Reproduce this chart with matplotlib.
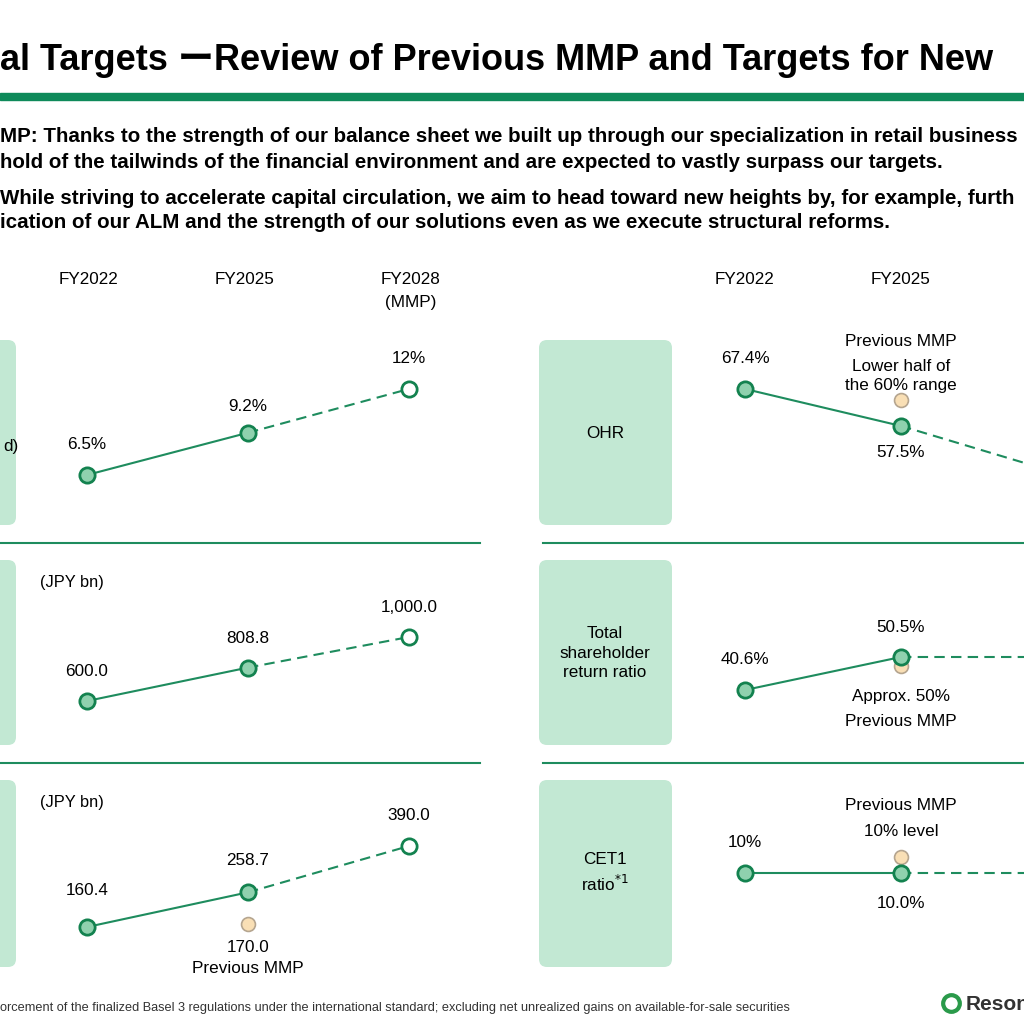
import matplotlib
matplotlib.use("Agg")
import matplotlib.pyplot as plt
from matplotlib.patches import FancyBboxPatch, Rectangle

plt.rcParams['font.family'] = ['Liberation Sans', 'Noto Sans CJK JP', 'DejaVu Sans']

years = ["FY2022", "FY2025", "FY2028\n(MMP)"]
roe = [6.5, 9.2, 12]
roe_lbl = ["6.5%", "9.2%", "12%"]
np_vals = [600.0, 808.8, 1000.0]
np_lbl = ["600.0", "808.8", "1,000.0"]
oth_vals = [160.4, 258.7, 390.0]
oth_lbl = ["160.4", "258.7", "390.0"]
oth_prev = 170.0
ohr = [67.4, 57.5, 45.0]
ohr_prev = 64.5
tsr = [40.6, 50.5, 50.5]
tsr_prev = 47.8
cet1 = [10, 10.0, 10.0]
cet1_prev = 11.0

W = H = 1024
fig = plt.figure(figsize=(10.24, 10.24), dpi=100)
bg = fig.add_axes([0, 0, 1, 1])
bg.set_xlim(0, W); bg.set_ylim(H, 0); bg.axis('off')

GREEN = '#0e8a5a'
LINE = '#1e8c5e'
BOX = '#c2e8d3'
MFC = '#8fd1ae'
BFC = '#f9dfb5'
BEC = '#b5a58f'
FS = 12.3

bg.text(0, 61, "al Targets ーReview of Previous MMP and Targets for New", fontsize=26, fontweight='bold', va='center', ha='left')
bg.add_patch(Rectangle((0, 93), W, 7, color=GREEN))
for y, s in [(137, "MP: Thanks to the strength of our balance sheet we built up through our specialization in retail business"),
             (162, "hold of the tailwinds of the financial environment and are expected to vastly surpass our targets."),
             (198, "While striving to accelerate capital circulation, we aim to head toward new heights by, for example, furth"),
             (223, "ication of our ALM and the strength of our solutions even as we execute structural reforms.")]:
    bg.text(0, y, s, fontsize=14.8, fontweight='bold', va='center', ha='left')

for x, s in [(89, years[0]), (245, years[1]), (411, years[2]), (745, years[0]), (901, years[1])]:
    bg.text(x, 280, s.split("\n")[0], fontsize=FS, ha='center', va='center')
    if "\n" in s:
        bg.text(x, 303, s.split("\n")[1], fontsize=FS, ha='center', va='center')

rows = [(340, 525), (560, 745), (780, 967)]
for (t, b) in rows:
    bg.add_patch(FancyBboxPatch((-20, t), 36, b - t, boxstyle="round,pad=0,rounding_size=8", fc=BOX, ec='none'))
    bg.add_patch(FancyBboxPatch((539, t), 133, b - t, boxstyle="round,pad=0,rounding_size=8", fc=BOX, ec='none'))
for y in (543, 763):
    bg.plot([0, 480], [y, y], color=LINE, lw=1.5)
    bg.plot([543, W], [y, y], color=LINE, lw=1.5)
bg.text(3, 446, "d)", fontsize=FS, ha='left', va='center')
bg.text(605, 433, "OHR", fontsize=FS, ha='center', va='center')
bg.text(605, 653, "Total\nshareholder\nreturn ratio", fontsize=FS, ha='center', va='center', linespacing=1.4)
bg.text(605, 873, "CET1\nratio$^{*1}$", fontsize=FS, ha='center', va='center', linespacing=1.4)
bg.text(40, 583, "(JPY bn)", fontsize=11.8, ha='left', va='center')
bg.text(40, 803, "(JPY bn)", fontsize=11.8, ha='left', va='center')
bg.text(0, 1008, "orcement of the finalized Basel 3 regulations under the international standard; excluding net unrealized gains on available-for-sale securities",
        fontsize=9.2, ha='left', va='center', color='#333333')
bg.plot([951], [1003], 'o', ms=12, mfc='white', mec='#2a9a4a', mew=3)
bg.text(966, 1005, "Reson", fontsize=15, fontweight='bold', color='#333333', ha='left', va='center')

def panel(x0, x1, top, bot, ylim, vals, labels, dy, prev=None, prev_lbl=None):
    ax = fig.add_axes([x0 / W, 1 - bot / H, (x1 - x0) / W, (bot - top) / H])
    ax.set_xlim(-0.5, 2.5)
    ax.set_ylim(*ylim)
    ax.axis('off')
    ax.patch.set_alpha(0)
    xs = [0, 1, 2]
    ax.plot(xs[:2], vals[:2], color=LINE, lw=1.5, zorder=2)
    ax.plot(xs[1:], vals[1:], color=LINE, lw=1.5, ls=(0, (5, 3)), zorder=2)
    if prev is not None:
        ax.plot([1], [prev], 'o', ms=10, mfc=BFC, mec=BEC, mew=1.2, zorder=3)
    ax.plot(xs[:2], vals[:2], 'o', ms=11, mfc=MFC, mec='#13824f', mew=2, zorder=4)
    ax.plot([2], [vals[2]], 'o', ms=11, mfc='white', mec='#13824f', mew=2, zorder=4)
    for i, (v, l) in enumerate(zip(vals, labels)):
        if l is None:
            continue
        ax.annotate(l, (i, v), xytext=(0, dy[i]), textcoords='offset points', ha='center', va='center', fontsize=FS, annotation_clip=False)
    if prev_lbl:
        for txt, off in prev_lbl:
            ax.annotate(txt, (1, prev), xytext=(0, off), textcoords='offset points', ha='center', va='center', fontsize=FS, annotation_clip=False)
    return ax

def lx(c0, step):
    return c0 - 0.5 * step, c0 + 2.5 * step

a, b = lx(87, 161)
panel(a, b, 340, 525, (3.30, 15.13), roe, roe_lbl, [22, 19, 22])
panel(a, b, 560, 745, (325, 1481), np_vals, np_lbl, [21, 21, 21])
panel(a, b, 780, 967, (47.0, 577.1), oth_vals, oth_lbl, [26, 23, 22], prev=oth_prev,
      prev_lbl=[("170.0", -17), ("Previous MMP", -32)])

a, b = lx(745, 156)
panel(a, b, 340, 525, (31.0, 80.5), ohr, ["67.4%", "57.5%", None], [22, -19, 0], prev=ohr_prev,
      prev_lbl=[("Previous MMP", 42), ("Lower half of", 24), ("the 60% range", 10)])
panel(a, b, 560, 745, (24.1, 79.6), tsr, ["40.6%", "50.5%", "50.5%"], [22, 21, 21], prev=tsr_prev,
      prev_lbl=[("Approx. 50%", -22), ("Previous MMP", -40)])
panel(a, b, 780, 967, (4.125, 15.81), cet1, ["10%", "10.0%", None], [22, -22, 0], prev=cet1_prev,
      prev_lbl=[("Previous MMP", 37), ("10% level", 18)])

fig.savefig("out.png", dpi=100, facecolor='white')
